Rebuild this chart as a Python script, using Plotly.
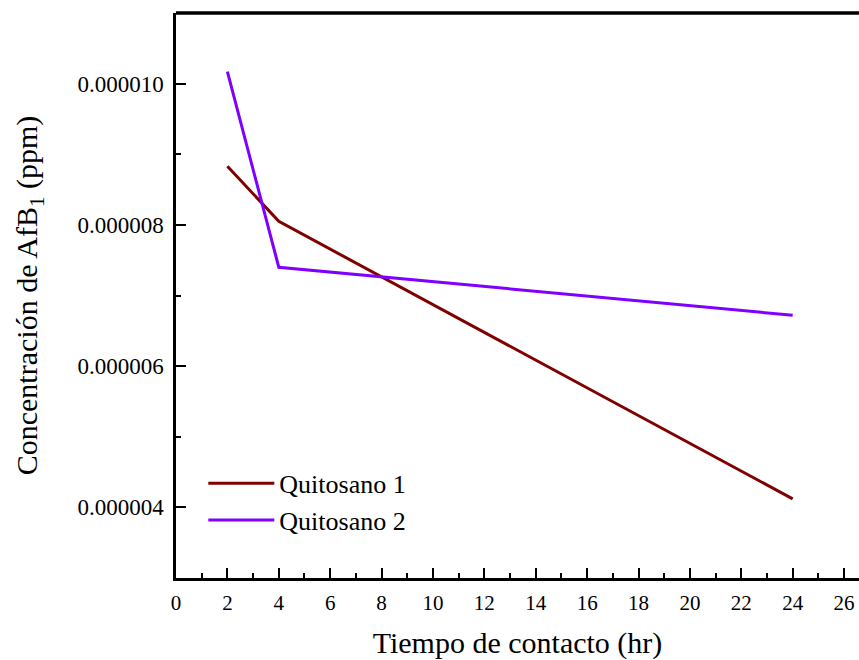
import plotly.graph_objects as go

time_hr = [2, 4, 24]
quitosano1 = [8.83e-6, 8.05e-6, 4.12e-6]
quitosano2 = [10.17e-6, 7.40e-6, 6.72e-6]
series_names = ["Quitosano 1", "Quitosano 2"]
x_ticks = list(range(0, 27, 2))
y_ticks = [4e-6, 6e-6, 8e-6, 10e-6]
y_tick_labels = ["0.000004", "0.000006", "0.000008", "0.000010"]

font_family = "Liberation Serif"

fig = go.Figure()
fig.add_trace(go.Scatter(x=time_hr, y=quitosano1, mode="lines", name=series_names[0],
                         line=dict(color="#800000", width=3)))
fig.add_trace(go.Scatter(x=time_hr, y=quitosano2, mode="lines", name=series_names[1],
                         line=dict(color="#8000FF", width=3)))

fig.update_layout(
    width=859, height=660,
    margin=dict(l=176, r=0, t=13, b=82),
    paper_bgcolor="white", plot_bgcolor="white",
    font=dict(family=font_family, color="black", size=21),
    showlegend=True,
    legend=dict(x=0.04, y=0.135, xanchor="left", yanchor="middle",
                bgcolor="rgba(0,0,0,0)", font=dict(size=26, family=font_family),
                itemwidth=66, tracegroupgap=0),
    xaxis=dict(range=[0, 26.58], tickvals=x_ticks, showgrid=False, zeroline=False,
               showline=True, linecolor="black", linewidth=2.5,
               ticks="inside", ticklen=10, tickwidth=2, tickcolor="black",
               minor=dict(dtick=1, tick0=0, ticks="inside", ticklen=5, tickwidth=2, tickcolor="black"),
               tickfont=dict(size=21, family=font_family), ticklabelstandoff=4,
               title=dict(text="Tiempo de contacto (hr)", font=dict(size=30, family=font_family), standoff=22)),
    yaxis=dict(range=[3e-6, 11e-6], tickvals=y_ticks, ticktext=y_tick_labels,
               showgrid=False, zeroline=False,
               showline=True, linecolor="black", linewidth=2.5,
               ticks="inside", ticklen=10, tickwidth=2, tickcolor="black",
               minor=dict(dtick=1e-6, tick0=0, ticks="inside", ticklen=5, tickwidth=2, tickcolor="black"),
               tickfont=dict(size=23, family=font_family), ticklabelstandoff=5,
               title=dict(text="Concentración de AfB<sub>1</sub> (ppm)", font=dict(size=30, family=font_family), standoff=31)),
    shapes=[dict(type="line", xref="paper", yref="paper", x0=0, x1=1, y0=1, y1=1,
                 line=dict(color="black", width=3.5))],
)

fig.write_html("out.html", config={"displayModeBar": False},
               post_script="document.body.style.margin='0';document.body.style.overflow='hidden';")
